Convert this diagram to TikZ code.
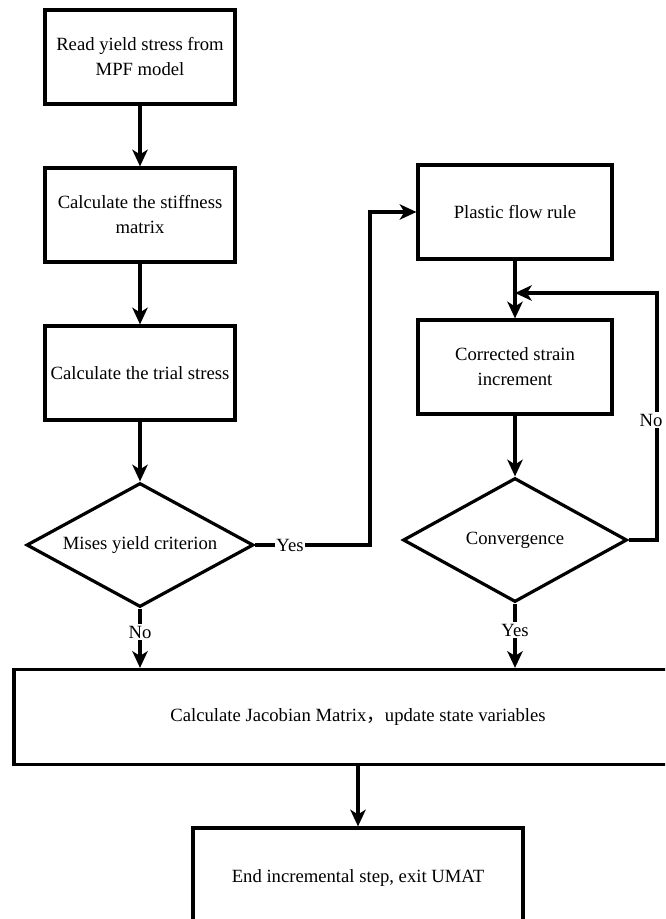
\documentclass[tikz,border=0pt]{standalone}
\usepackage{fontspec}
\setmainfont{Liberation Serif}
\newfontfamily\cjk{Noto Sans CJK SC}
\usetikzlibrary{shapes.geometric,arrows.meta}

\begin{document}
\begin{tikzpicture}[x=0.75pt,y=-0.75pt,
		every node/.style={font=\fontsize{14}{18.75}\selectfont},
		box/.style={draw,line width=2.4pt,align=center,inner sep=2pt},
		stepbox/.style={box,minimum width=142.5pt,minimum height=70.5pt},
		loopbox/.style={box,minimum width=145.5pt,minimum height=70.5pt},
		decision/.style={draw,diamond,line width=2.4pt,inner sep=0pt,shape aspect=1.83},
		lbl/.style={fill=white,inner sep=1pt},
		arr/.style={line width=2.4pt,-{Stealth[length=12.5pt,width=11.5pt,inset=3.5pt]}}]
		\useasboundingbox (0,0) rectangle (665,919);
		\clip (0,0) rectangle (665,919);
		% left column
		\node[stepbox] (read) at (140,57) {Read yield stress from\\MPF model};
		\node[stepbox] (stiff) at (140,215) {Calculate the stiffness\\matrix};
		\node[stepbox] (trial) at (140,373) {Calculate the trial stress};
		\node[decision,minimum width=170.25pt,minimum height=93pt] (mises) at (140,545) {Mises yield criterion};
		% right column
		\node[loopbox] (plastic) at (515,212) {Plastic flow rule};
		\node[loopbox] (corr) at (515,367) {Corrected strain\\increment};
		\node[decision,minimum width=168pt,minimum height=93pt] (conv) at (515,540) {Convergence};
		% bottom
		\node[box,minimum width=516pt,minimum height=71.25pt] (jacob) at (358,717) {Calculate Jacobian Matrix{\cjk ，}update state variables};
		\node[box,minimum width=247.5pt,minimum height=75pt] (finish) at (358,878) {End incremental step, exit UMAT};
		\coordinate (merge) at (515,293);
		\coordinate (turn) at (657,540);
		\coordinate (rise) at (370,545);

		\draw[arr] (read) -- (stiff);
		\draw[arr] (stiff) -- (trial);
		\draw[arr] (trial) -- (mises);
		\draw[arr] (mises.east) -- (rise) |- (plastic.west);
		\draw[arr] (plastic) -- (corr);
		\draw[arr] (corr) -- (conv);
		\draw[arr] (conv.east) -- (turn) |- (merge);
		\draw[arr] (mises.south) -- (mises.south |- jacob.north);
		\draw[arr] (conv.south) -- (conv.south |- jacob.north);
		\draw[arr] (jacob) -- (finish);
		\node[lbl] (yes1) at (290,545) {Yes};
		\node[lbl] (no1) at (140,632) {No};
		\node[lbl] (yes2) at (515,630) {Yes};
		\node[lbl] (no2) at (651,420) {No};
\end{tikzpicture}
\end{document}
